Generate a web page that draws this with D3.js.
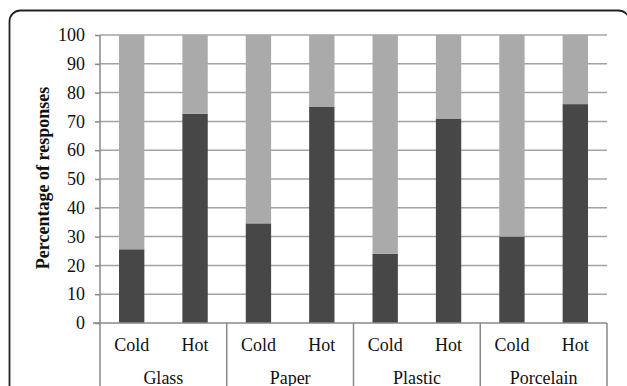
<!DOCTYPE html>
<html lang="en">
    <head>
        <meta charset="utf-8">
        <title>Responses by cup material</title>
        <script src="https://d3js.org/d3.v7.min.js"></script>
        <style type="text/css">
          body {
            margin: 0;
            background: #fff;
          }
          svg {
            width: 627px;
            height: 386px;
            display: block;
          }
          .ticks text, .labels {
            font-family: "Liberation Serif", "Times New Roman", serif;
            font-size: 18px;
            fill: #111;
          }
          .title {
            font-family: "Liberation Serif", "Times New Roman", serif;
            font-size: 18px;
            font-weight: bold;
            fill: #111;
          }
        </style>
    </head>
    <body>
        <svg></svg>

        <script type="text/javascript">

        // data
        const materials = ["Glass", "Paper", "Plastic", "Porcelain"];
        const temps = ["Cold", "Hot"];
        // dark (lower) part of each bar, in the order Glass Cold, Glass Hot, Paper Cold ...
        const darkValues = [25.6, 72.6, 34.6, 75, 24, 71, 30, 76];
        // light (upper) part of each bar
        const lightValues = [74.4, 27.4, 65.4, 25, 76, 29, 70, 24];
        const yTicks = [0, 10, 20, 30, 40, 50, 60, 70, 80, 90, 100];

        const rows = [];
        materials.forEach((m, i) => {
          temps.forEach((t, j) => {
            const k = i * 2 + j;
            rows.push({material: m, temp: t, dark: darkValues[k], light: lightValues[k]});
          });
        });

        const plotLeft = 100, plotRight = 607, plotTop = 35, plotBase = 323;

        const svg = d3.select("svg");

        // rounded frame around everything (right and bottom sides fall off the picture)
        svg.append("rect")
           .attr("x", 9.5)
           .attr("y", 10.5)
           .attr("width", 620)
           .attr("height", 420)
           .attr("rx", 11)
           .attr("fill", "none")
           .attr("stroke", "#222")
           .attr("stroke-width", 1.8);

        const x0 = d3.scaleBand()
                     .domain(materials)
                     .range([plotLeft, plotRight]);

        const x1 = d3.scaleBand()
                     .domain(temps)
                     .range([0, x0.bandwidth()])
                     .paddingInner(0.6)
                     .paddingOuter(0.3);

        const y = d3.scaleLinear()
                    .domain([0, 100])
                    .range([plotBase, plotTop]);

        //gridlines
        svg.append("g")
           .selectAll("line")
           .data(yTicks.filter(d => d > 0))
           .enter()
           .append("line")
           .attr("x1", plotLeft)
           .attr("x2", plotRight)
           .attr("y1", d => y(d))
           .attr("y2", d => y(d))
           .attr("stroke", "#a3a3a3")
           .attr("stroke-width", 1.5);

        // stacked bars
        const series = d3.stack().keys(["dark", "light"])(rows);
        const fills = {dark: "#474747", light: "#aaaaaa"};

        svg.append("g")
           .selectAll("g")
           .data(series)
           .enter()
           .append("g")
           .attr("fill", d => fills[d.key])
           .selectAll("rect")
           .data(d => d)
           .enter()
           .append("rect")
           .attr("x", d => x0(d.data.material) + x1(d.data.temp))
           .attr("width", x1.bandwidth())
           .attr("y", d => y(d[1]))
           .attr("height", d => y(d[0]) - y(d[1]));

        // y axis
        const leftAxis = d3.axisLeft(y)
                           .tickValues(yTicks)
                           .tickSize(5)
                           .tickPadding(10);

        const yAxis = svg.append("g")
                         .attr("class", "ticks")
                         .attr("transform", "translate(" + plotLeft + ",0)")
                         .call(leftAxis);
        yAxis.select(".domain").remove();
        yAxis.selectAll("line").attr("stroke", "#888").attr("stroke-width", 1.5);

        // axis lines (vertical y line runs down through the category boxes)
        svg.append("line")
           .attr("x1", plotLeft).attr("x2", plotLeft)
           .attr("y1", plotTop).attr("y2", 400)
           .attr("stroke", "#888").attr("stroke-width", 1.5);
        svg.append("line")
           .attr("x1", plotLeft - 7).attr("x2", plotRight)
           .attr("y1", plotBase).attr("y2", plotBase)
           .attr("stroke", "#888").attr("stroke-width", 1.5);

        // group separators under the axis
        svg.append("g")
           .selectAll("line")
           .data(materials)
           .enter()
           .append("line")
           .attr("x1", d => x0(d) + x0.bandwidth())
           .attr("x2", d => x0(d) + x0.bandwidth())
           .attr("y1", plotBase)
           .attr("y2", 400)
           .attr("stroke", "#888")
           .attr("stroke-width", 1.5);

        // Cold / Hot labels
        svg.append("g")
           .selectAll("text")
           .data(rows)
           .enter()
           .append("text")
           .attr("class", "labels")
           .attr("x", d => x0(d.material) + x1(d.temp) + x1.bandwidth() / 2)
           .attr("y", 351)
           .attr("text-anchor", "middle")
           .text(d => d.temp);

        // material labels
        svg.append("g")
           .selectAll("text")
           .data(materials)
           .enter()
           .append("text")
           .attr("class", "labels")
           .attr("x", d => x0(d) + x0.bandwidth() / 2)
           .attr("y", 384)
           .attr("text-anchor", "middle")
           .text(d => d);

        // y axis title
        svg.append("text")
           .attr("class", "title")
           .attr("transform", "translate(49,178) rotate(-90)")
           .attr("text-anchor", "middle")
           .text("Percentage of responses");

        </script>
    </body>
</html>
